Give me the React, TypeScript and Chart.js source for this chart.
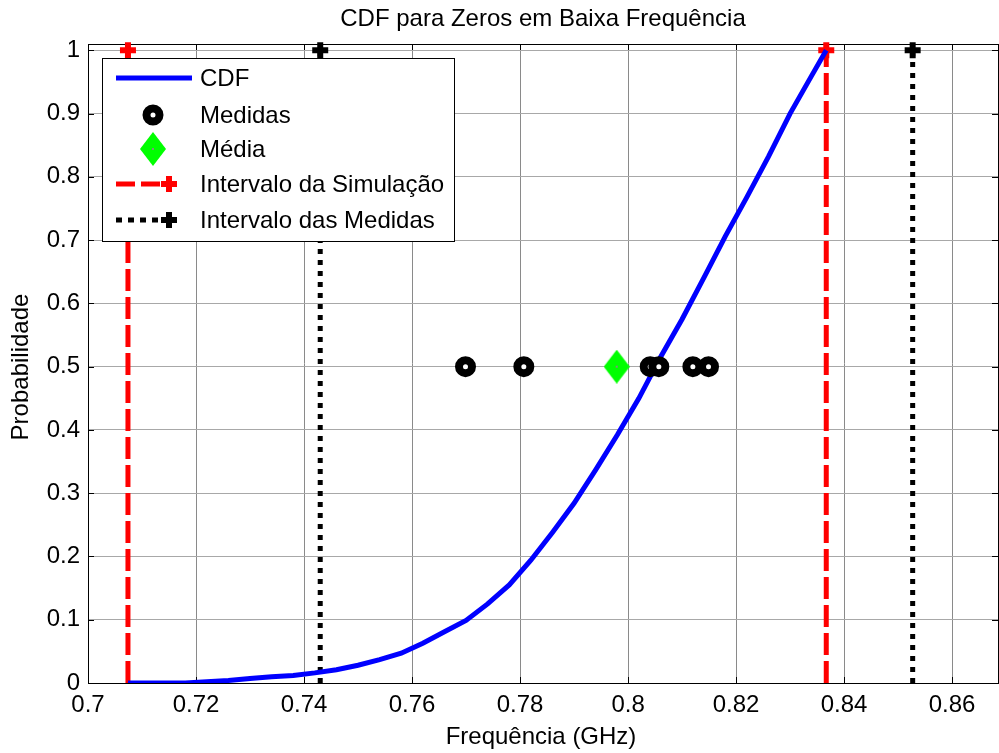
import React, { useEffect, useRef } from "react";
import { Chart, registerables } from "chart.js";

Chart.register(...registerables);

const titleText = "CDF para Zeros em Baixa Frequência";
const xLabel = "Frequência (GHz)";
const yLabel = "Probabilidade";
const legendLabels = ["CDF", "Medidas", "Média", "Intervalo da Simulação", "Intervalo das Medidas"];

const xTicks = [0.7, 0.72, 0.74, 0.76, 0.78, 0.8, 0.82, 0.84, 0.86];
const yTicks = [0, 0.1, 0.2, 0.3, 0.4, 0.5, 0.6, 0.7, 0.8, 0.9, 1];

const cdfX = [0.7074, 0.712, 0.718, 0.722, 0.726, 0.730, 0.734, 0.738, 0.742, 0.746, 0.750, 0.754, 0.758, 0.762, 0.766, 0.770, 0.774, 0.778, 0.782, 0.786, 0.790, 0.794, 0.798, 0.802, 0.806, 0.810, 0.814, 0.818, 0.822, 0.826, 0.830, 0.834, 0.8367];
const cdfY = [0, 0, 0, 0.002, 0.004, 0.007, 0.010, 0.012, 0.016, 0.021, 0.028, 0.037, 0.047, 0.063, 0.081, 0.099, 0.125, 0.155, 0.194, 0.238, 0.284, 0.337, 0.392, 0.450, 0.515, 0.575, 0.640, 0.706, 0.768, 0.832, 0.900, 0.960, 1.0];

const medidasX = [0.7699, 0.7807, 0.8041, 0.8057, 0.8120, 0.8149];
const medidasY = [0.5, 0.5, 0.5, 0.5, 0.5, 0.5];
const mediaX = [0.7979];
const mediaY = [0.5];

const simX = [0.7074, 0.8367];
const measX = [0.7430, 0.8527];
const intervalY = [0, 1];

const FONT = '"Liberation Sans", Arial, sans-serif';
const BLUE = "#0000ff";
const RED = "#ff0000";
const GREEN = "#00ff00";

function makeDiamond(): HTMLCanvasElement {
  const c = document.createElement("canvas");
  c.width = 26;
  c.height = 34;
  const g = c.getContext("2d")!;
  g.fillStyle = GREEN;
  g.beginPath();
  g.moveTo(13, 0);
  g.lineTo(26, 17);
  g.lineTo(13, 34);
  g.lineTo(0, 17);
  g.closePath();
  g.fill();
  g.fillStyle = "#888";
  g.fillRect(12, 16, 2, 2);
  return c;
}

function drawCross(ctx: CanvasRenderingContext2D, x: number, y: number, color: string) {
  ctx.save();
  ctx.setLineDash([]);
  ctx.strokeStyle = color;
  ctx.lineWidth = 6;
  ctx.beginPath();
  ctx.moveTo(x - 8, y);
  ctx.lineTo(x + 8, y);
  ctx.moveTo(x, y - 8);
  ctx.lineTo(x, y + 8);
  ctx.stroke();
  ctx.restore();
}

export default function App() {
  const ref = useRef<HTMLCanvasElement | null>(null);

  useEffect(() => {
    if (!ref.current) return;
    const diamond = makeDiamond();

    const decor = {
      id: "decor",
      beforeDatasetsDraw(chart: any) {
        const { ctx, chartArea: a } = chart;
        ctx.save();
        ctx.strokeStyle = "#000";
        ctx.lineWidth = 1;
        ctx.strokeRect(a.left + 0.5, a.top + 0.5, a.right - a.left, a.bottom - a.top);
        const xs = chart.scales.x;
        const ys = chart.scales.y;
        ctx.beginPath();
        xTicks.forEach((v) => {
          const px = Math.round(xs.getPixelForValue(v)) + 0.5;
          ctx.moveTo(px, a.bottom);
          ctx.lineTo(px, a.bottom - 6);
          ctx.moveTo(px, a.top);
          ctx.lineTo(px, a.top + 6);
        });
        yTicks.forEach((v) => {
          const py = Math.round(ys.getPixelForValue(v)) + 0.5;
          ctx.moveTo(a.left, py);
          ctx.lineTo(a.left + 6, py);
          ctx.moveTo(a.right, py);
          ctx.lineTo(a.right - 6, py);
        });
        ctx.stroke();
        ctx.restore();
      },
      afterDraw(chart: any) {
        const { ctx } = chart;
        ctx.save();
        ctx.fillStyle = "#000";
        ctx.textAlign = "center";
        ctx.textBaseline = "middle";
        ctx.font = `24px ${FONT}`;
        ctx.fillText(titleText, 543, 19);
        ctx.fillText(xLabel, 541, 737);
        ctx.save();
        ctx.translate(21, 367);
        ctx.rotate(-Math.PI / 2);
        ctx.fillText(yLabel, 0, 0);
        ctx.restore();

        const bx = 102, by = 58, bw = 352, bh = 183;
        ctx.fillStyle = "#fff";
        ctx.fillRect(bx, by, bw, bh);
        ctx.strokeStyle = "#000";
        ctx.lineWidth = 1;
        ctx.strokeRect(bx + 0.5, by + 0.5, bw, bh);
        const rows = [78, 115, 149, 184, 220];
        ctx.textAlign = "left";
        ctx.fillStyle = "#000";
        ctx.font = `24px ${FONT}`;
        legendLabels.forEach((t, i) => ctx.fillText(t, 200, rows[i] + 1));

        ctx.strokeStyle = BLUE;
        ctx.lineWidth = 5;
        ctx.beginPath();
        ctx.moveTo(116, rows[0]);
        ctx.lineTo(192, rows[0]);
        ctx.stroke();
        ctx.beginPath();
        ctx.arc(153, rows[1], 6.5, 0, Math.PI * 2);
        ctx.fillStyle = "#fff";
        ctx.fill();
        ctx.strokeStyle = "#000";
        ctx.lineWidth = 8;
        ctx.stroke();
        ctx.drawImage(diamond, 153 - 13, rows[2] - 17);
        ctx.strokeStyle = RED;
        ctx.lineWidth = 5;
        ctx.setLineDash([19, 6]);
        ctx.beginPath();
        ctx.moveTo(116, rows[3]);
        ctx.lineTo(163, rows[3]);
        ctx.stroke();
        drawCross(ctx, 169, rows[3], RED);
        ctx.strokeStyle = "#000";
        ctx.lineWidth = 5;
        ctx.setLineDash([6, 6]);
        ctx.beginPath();
        ctx.moveTo(116, rows[4]);
        ctx.lineTo(160, rows[4]);
        ctx.stroke();
        drawCross(ctx, 169, rows[4], "#000");
        ctx.restore();
      },
    };

    const vline = (xv: number, color: string, dash: number[]) => ({
      type: "scatter" as const,
      data: intervalY.map((y) => ({ x: xv, y })),
      showLine: true,
      borderColor: color,
      backgroundColor: color,
      borderWidth: 5,
      borderDash: dash,
      borderCapStyle: "butt" as const,
      pointStyle: "cross" as const,
      pointRadius: [0, 8],
      pointBorderWidth: 6,
      pointBorderColor: color,
      pointHoverRadius: 0,
      clip: false as any,
      order: 5,
    });

    const chart = new Chart(ref.current, {
      type: "scatter",
      data: {
        datasets: [
          {
            data: cdfX.map((x, i) => ({ x, y: cdfY[i] })),
            showLine: true,
            borderColor: BLUE,
            borderWidth: 5,
            pointRadius: 0,
            tension: 0,
            order: 4,
          } as any,
          {
            data: medidasX.map((x, i) => ({ x, y: medidasY[i] })),
            pointStyle: "circle",
            pointRadius: 6.5,
            pointBorderWidth: 8,
            pointBorderColor: "#000",
            pointBackgroundColor: "#fff",
            order: 2,
          },
          {
            data: mediaX.map((x, i) => ({ x, y: mediaY[i] })),
            pointStyle: diamond,
            pointRadius: 12,
            order: 1,
          },
          vline(simX[0], RED, [22, 6]),
          vline(simX[1], RED, [22, 6]),
          vline(measX[0], "#000", [5, 6]),
          vline(measX[1], "#000", [5, 6]),
        ],
      },
      options: {
        animation: false,
        responsive: false,
        devicePixelRatio: 1,
        layout: { autoPadding: false, padding: { top: 44, left: 0, right: 1, bottom: 0 } },
        plugins: {
          legend: { display: false },
          title: { display: false },
          tooltip: { enabled: false },
        },
        events: [],
        scales: {
          x: {
            type: "linear",
            min: 0.7,
            max: 0.8685,
            afterFit: (s: any) => {
              s.height = 70;
              s.paddingLeft = 0;
              s.paddingRight = 0;
            },
            afterBuildTicks: (s: any) => {
              s.ticks = xTicks.map((v) => ({ value: v }));
            },
            ticks: {
              autoSkip: false,
              maxRotation: 0,
              color: "#000",
              padding: 8,
              font: { family: FONT, size: 24 },
              callback: (v: any) => String(Number(v)),
            },
            grid: { color: "#8a8a8a", lineWidth: 1, drawTicks: false },
            border: { display: false },
          },
          y: {
            type: "linear",
            min: 0,
            max: 1.01,
            afterFit: (s: any) => {
              s.width = 88;
              s.paddingTop = 0;
              s.paddingBottom = 0;
            },
            afterBuildTicks: (s: any) => {
              s.ticks = yTicks.map((v) => ({ value: v }));
            },
            ticks: {
              autoSkip: false,
              color: "#000",
              padding: 8,
              font: { family: FONT, size: 24 },
              callback: (v: any) => String(Number(v)),
            },
            grid: { color: "#a8a8a8", lineWidth: 1, drawTicks: false },
            border: { display: false },
          },
        },
      },
      plugins: [decor],
    });
    return () => chart.destroy();
  }, []);

  return (
    <div style={{ position: "absolute", left: 0, top: 0, width: 999, height: 753, background: "#fff" }}>
      <canvas ref={ref} width={999} height={753} style={{ width: 999, height: 753, display: "block" }} />
    </div>
  );
}
